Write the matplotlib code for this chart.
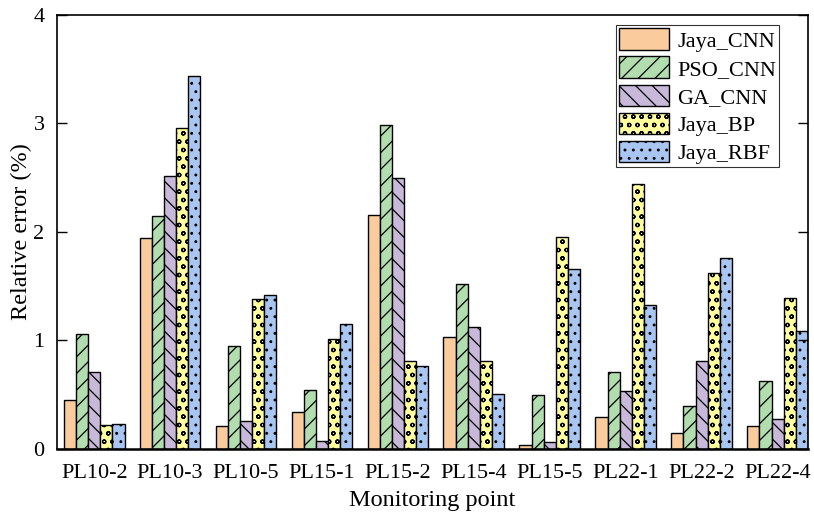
import numpy as np
import matplotlib
matplotlib.use("Agg")
import matplotlib.pyplot as plt

plt.rcParams['font.family'] = ['Liberation Serif', 'DejaVu Serif']
plt.rcParams['hatch.linewidth'] = 0.9

points = ["PL10-2", "PL10-3", "PL10-5", "PL15-1", "PL15-2",
          "PL15-4", "PL15-5", "PL22-1", "PL22-2", "PL22-4"]

models = ["Jaya_CNN", "PSO_CNN", "GA_CNN", "Jaya_BP", "Jaya_RBF"]

jaya_cnn = [0.45, 1.94, 0.21, 0.34, 2.16, 1.03, 0.04, 0.29, 0.15, 0.21]
pso_cnn = [1.06, 2.15, 0.95, 0.54, 2.99, 1.52, 0.50, 0.71, 0.40, 0.63]
ga_cnn = [0.71, 2.52, 0.26, 0.07, 2.50, 1.12, 0.06, 0.53, 0.81, 0.28]
jaya_bp = [0.22, 2.96, 1.38, 1.01, 0.81, 0.81, 1.95, 2.44, 1.62, 1.39]
jaya_rbf = [0.23, 3.44, 1.42, 1.15, 0.76, 0.51, 1.66, 1.33, 1.76, 1.09]

series = [jaya_cnn, pso_cnn, ga_cnn, jaya_bp, jaya_rbf]
colors = ["#FACB9C", "#B2DEAF", "#C8B9DA", "#FFFF9E", "#A9C6F2"]
hatches = ["", "//", "\\\\", "oo", ".."]

fig = plt.figure(figsize=(8.14, 5.16), dpi=100)
ax = fig.add_axes([0.070, 0.130, 0.9226, 0.841])

x = np.arange(len(points))
width = 0.16
for i, (vals, name) in enumerate(zip(series, models)):
    ax.bar(x + (i - 2) * width, vals, width, color=colors[i],
           edgecolor="black", linewidth=1.0, hatch=hatches[i], label=name)

ax.set_xlim(-0.49, 9.4)
ax.set_ylim(0, 4)
ax.set_yticks([0, 1, 2, 3, 4])
ax.set_xticks(x)
ax.set_xticklabels(points)

ax.tick_params(axis='y', direction='in', length=7, width=1.0,
               right=True, labelsize=16, pad=9)
ax.tick_params(axis='x', length=0, labelsize=16, pad=11)

for side in ["left", "right", "top"]:
    ax.spines[side].set_linewidth(1.2)
ax.spines["bottom"].set_linewidth(1.8)

ax.set_xlabel("Monitoring point", fontsize=17.5, labelpad=5)
ax.set_ylabel("Relative error (%)", fontsize=17.5, labelpad=1)

leg = ax.legend(loc="upper right", bbox_to_anchor=(0.962, 0.977),
                fontsize=16, frameon=True, fancybox=False,
                handlelength=2.25, handleheight=1.1, handletextpad=0.35,
                labelspacing=0.22, borderpad=0.15, borderaxespad=0.0)
leg.get_frame().set_edgecolor("black")
leg.get_frame().set_linewidth(0.8)

fig.savefig("out.png", dpi=100)
